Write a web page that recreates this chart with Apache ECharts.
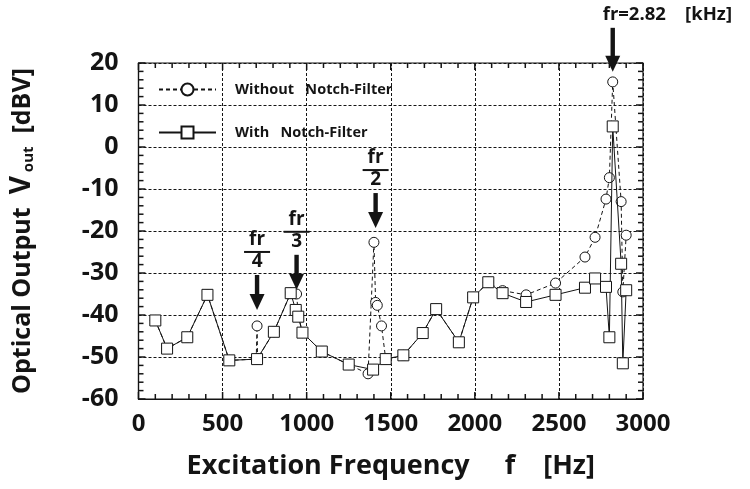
<!DOCTYPE html>
<html>
<head>
<meta charset="utf-8">
<script src="https://cdn.jsdelivr.net/npm/echarts@6/dist/echarts.min.js"></script>
<style>
  html, body { margin: 0; padding: 0; background: #fff; }
  #chart { width: 750px; height: 489px; }
</style>
</head>
<body>
<div id="chart"></div>
<script>
// Optical output vs excitation frequency, with and without the notch filter
const freqWithout = [100, 170, 290, 410, 540, 700, 705, 708, 805, 905, 940, 950, 975, 1090, 1250, 1365, 1400, 1410, 1420, 1445, 1470, 1575, 1690, 1770, 1905, 1990, 2080, 2165, 2305, 2480, 2655, 2715, 2780, 2800, 2820, 2870, 2880, 2900];
const valWithout = [-41.3, -48, -45.3, -35.2, -50.8, -50.5, -42.6, -50.4, -44, -34.8, -35, -40, -44.2, -48.7, -51.8, -54, -22.7, -37, -37.7, -42.6, -50.5, -49.6, -44.3, -38.6, -46.5, -35.8, -32.2, -34.2, -35.2, -32.4, -26.2, -21.5, -12.4, -7.3, 15.5, -13, -34.5, -21];

const freqWith = [100, 170, 290, 410, 540, 705, 805, 905, 935, 950, 975, 1090, 1250, 1395, 1470, 1575, 1690, 1770, 1905, 1990, 2080, 2165, 2305, 2480, 2655, 2715, 2780, 2800, 2820, 2870, 2880, 2900];
const valWith = [-41.3, -48, -45.3, -35.2, -50.8, -50.5, -44, -34.8, -38.8, -40.4, -44.2, -48.7, -51.8, -53, -50.5, -49.6, -44.3, -38.6, -46.5, -35.8, -32.2, -34.8, -36.9, -35.2, -33.5, -31.3, -33.3, -45.3, 4.9, -27.8, -51.5, -34.1];

const seriesNames = ['Without   Notch-Filter', 'With   Notch-Filter'];
const xTicks = [0, 500, 1000, 1500, 2000, 2500, 3000];
const yTicks = [-60, -50, -40, -30, -20, -10, 0, 10, 20];
const minorSplits = 5;

// Resonance and its sub-harmonics marked with arrows: [denominator, arrow tip value in dBV]
const resonance = 2820;
const subHarmonics = [[4, -38.8], [3, -34], [2, -19.3]];
const resonanceTip = 17.9;

const FONT = '"Open Sans", "DejaVu Sans", sans-serif';
const INK = '#141414';

const pairs = (xs, ys) => xs.map((x, i) => [x, ys[i]]);

const chart = echarts.init(document.getElementById('chart'), null, { renderer: 'canvas' });

const xMin = xTicks[0], xMax = xTicks[xTicks.length - 1];
const yMin = yTicks[0], yMax = yTicks[yTicks.length - 1];

chart.setOption({
  animation: false,
  backgroundColor: '#fff',
  grid: { left: 138.5, right: 107, top: 63, bottom: 90, show: true, borderColor: INK, borderWidth: 1.2, backgroundColor: 'transparent' },
  xAxis: {
    type: 'value', min: xMin, max: xMax, interval: xTicks[1] - xTicks[0],
    axisLine: { show: true, onZero: false, lineStyle: { color: INK, width: 1.2 } },
    axisTick: { show: false },
    splitLine: { show: true, lineStyle: { color: INK, type: [3, 2], width: 1 } },
    axisLabel: {
      show: true, fontFamily: FONT, fontWeight: 'bold', fontSize: 24, color: INK, margin: 13,
      formatter: (v) => String(v)
    },
    name: 'Excitation Frequency     f    [Hz]',
    nameLocation: 'middle', nameGap: 54,
    nameTextStyle: { fontFamily: FONT, fontWeight: 'bold', fontSize: 27, color: INK }
  },
  yAxis: {
    type: 'value', min: yMin, max: yMax, interval: yTicks[1] - yTicks[0],
    axisLine: { show: true, onZero: false, lineStyle: { color: INK, width: 1.2 } },
    axisTick: { show: false },
    splitLine: { show: true, lineStyle: { color: INK, type: [3, 2], width: 1 } },
    axisLabel: {
      show: true, fontFamily: FONT, fontWeight: 'bold', fontSize: 25, color: INK, margin: 20,
      formatter: (v) => String(v)
    },
    name: '{a|Optical Output  }{v|V}{s|out}{a|  [dBV]}',
    nameLocation: 'middle', nameGap: 102, nameRotate: 90,
    nameTextStyle: {
      fontFamily: FONT, fontWeight: 'bold', color: INK,
      rich: {
        a: { fontFamily: FONT, fontWeight: 'bold', fontSize: 25, color: INK },
        v: { fontFamily: FONT, fontWeight: 'bold', fontSize: 28, color: INK, padding: [0, 4, 0, 0] },
        s: { fontFamily: FONT, fontWeight: 'bold', fontSize: 15, color: INK, verticalAlign: 'bottom', padding: [10, 0, 0, 0] }
      }
    }
  },
  legend: {
    orient: 'vertical', left: 153, top: 77,
    itemWidth: 57, itemHeight: 15, itemGap: 28,
    data: seriesNames,
    textStyle: { fontFamily: FONT, fontWeight: 'bold', fontSize: 14.5, color: INK, padding: [0, 0, 0, 14] }
  },
  series: [
    {
      name: seriesNames[0], type: 'line',
      data: pairs(freqWithout, valWithout),
      symbol: 'circle', symbolSize: 10,
      itemStyle: { color: '#fff', borderColor: INK, borderWidth: 1 },
      lineStyle: { color: INK, width: 1, type: [4, 3] },
      z: 3
    },
    {
      name: seriesNames[1], type: 'line',
      data: pairs(freqWith, valWith),
      symbol: 'rect', symbolSize: 11,
      itemStyle: { color: '#fff', borderColor: INK, borderWidth: 1 },
      lineStyle: { color: INK, width: 1, type: 'solid' },
      z: 4
    }
  ]
});

const graphics = [];

// Inward-pointing major and minor ticks on all four sides of the frame
function tickLine(x1, y1, x2, y2) {
  return { type: 'line', z: 5, silent: true, shape: { x1: x1, y1: y1, x2: x2, y2: y2 }, style: { stroke: INK, lineWidth: 1.5 } };
}
{
  const [left, bottom] = chart.convertToPixel({ gridIndex: 0 }, [xMin, yMin]);
  const [right, top] = chart.convertToPixel({ gridIndex: 0 }, [xMax, yMax]);
  const xStep = (xTicks[1] - xTicks[0]) / minorSplits;
  for (let i = 0; i <= (xMax - xMin) / xStep; i++) {
    const v = xMin + i * xStep;
    const len = i % minorSplits === 0 ? 7 : 5;
    const px = chart.convertToPixel({ gridIndex: 0 }, [v, yMin])[0];
    graphics.push(tickLine(px, bottom, px, bottom - len));
    graphics.push(tickLine(px, top, px, top + len));
  }
  const yStep = (yTicks[1] - yTicks[0]) / minorSplits;
  for (let i = 0; i <= (yMax - yMin) / yStep; i++) {
    const v = yMin + i * yStep;
    const len = i % minorSplits === 0 ? 7 : 5;
    const py = chart.convertToPixel({ gridIndex: 0 }, [xMin, v])[1];
    graphics.push(tickLine(left, py, left + len, py));
    graphics.push(tickLine(right, py, right - len, py));
  }
}

// Thick downward arrow with its tip at (x, tipY), shaft starting at topY
function arrow(x, topY, tipY) {
  const headLen = 16, headHalf = 7.5, shaft = 2.2;
  return {
    type: 'group', z: 20,
    children: [
      { type: 'rect', shape: { x: x - shaft, y: topY, width: shaft * 2, height: tipY - headLen - topY + 2 }, style: { fill: INK } },
      { type: 'polygon', shape: { points: [[x - headHalf, tipY - headLen], [x + headHalf, tipY - headLen], [x, tipY]] }, style: { fill: INK } }
    ]
  };
}
function fraction(x, topY, denom) {
  const t = { fontFamily: FONT, fontWeight: 'bold', fill: INK, align: 'center' };
  return [
    { type: 'text', z: 20, x: x, y: topY, style: Object.assign({ text: 'fr', fontSize: 19, verticalAlign: 'top' }, t) },
    { type: 'rect', z: 20, shape: { x: x - 13, y: topY + 21, width: 26, height: 2 }, style: { fill: INK } },
    { type: 'text', z: 20, x: x, y: topY + 22, style: Object.assign({ text: String(denom), fontSize: 19, verticalAlign: 'top' }, t) }
  ];
}

subHarmonics.forEach(([n, tipVal]) => {
  const [px, tipY] = chart.convertToPixel({ gridIndex: 0 }, [resonance / n, tipVal]);
  const topY = tipY - 80;
  graphics.push(...fraction(px, topY, n));
  graphics.push(arrow(px, topY + 45, tipY));
});
{
  const [px, tipY] = chart.convertToPixel({ gridIndex: 0 }, [resonance, resonanceTip]);
  graphics.push(arrow(px, tipY - 44, tipY));
  graphics.push({
    type: 'text', z: 20, x: px - 10, y: 15,
    style: { text: 'fr=2.82    [kHz]', fontFamily: FONT, fontWeight: 'bold', fontSize: 18.5, fill: INK, verticalAlign: 'middle', align: 'left' }
  });
}
chart.setOption({ graphic: graphics });
</script>
</body>
</html>
